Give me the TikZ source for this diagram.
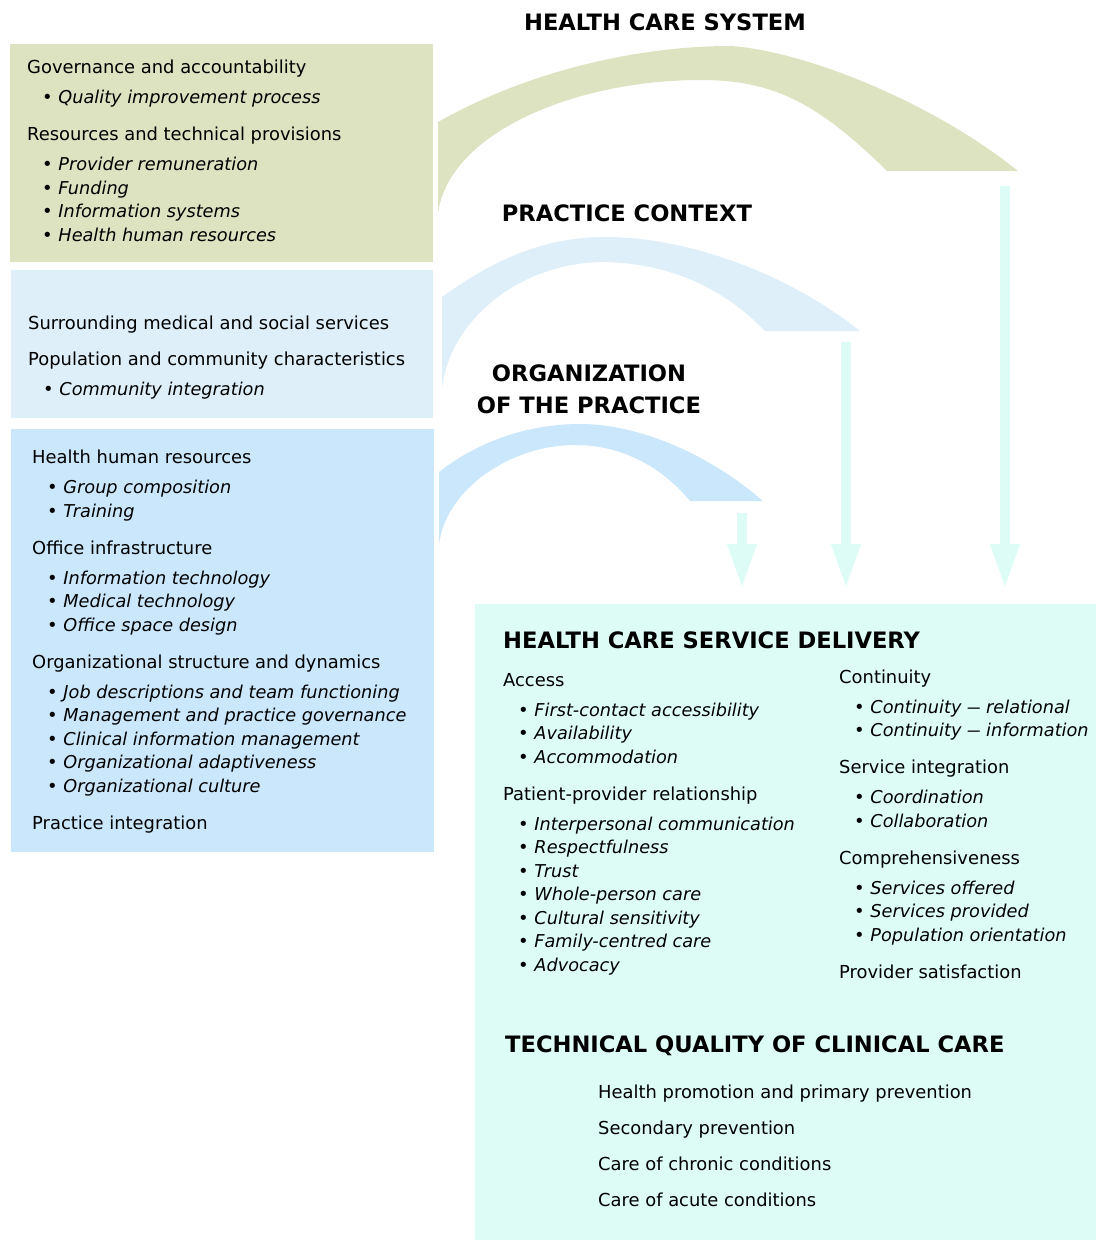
\documentclass[tikz,border=0pt]{standalone}
\usepackage{fontspec}
\setmainfont{DejaVu Sans}
\usepackage{graphicx}
\usetikzlibrary{positioning, arrows.meta}
\definecolor{sysgreen}{RGB}{221,226,193}
\definecolor{ctxblue}{RGB}{222,239,249}
\definecolor{orgblue}{RGB}{203,231,252}
\definecolor{mint}{RGB}{221,252,246}
\newcommand{\bul}[1]{\hspace*{15pt}\textbullet\ {\fontsize{17.7}{23.5}\selectfont\itshape #1}}
\newcommand{\longdash}{\scalebox{0.76}[1]{---}}
\tikzset{
  panel/.style={fill=#1, inner sep=0pt, anchor=north west},
  % base of a list is the baseline of its last line
  listtext/.style={inner sep=0pt, anchor=base west, align=left,
    font=\fontsize{17.9}{23.5}\selectfont},
  heading/.style={inner sep=0pt, anchor=base, align=center,
    font=\fontsize{22.6}{32}\selectfont\bfseries},
  feed/.style={draw=mint, line width=10pt,
    -{Triangle[length=45pt,width=27pt,sep=3pt]}},
}

\begin{document}
\begin{tikzpicture}[x=1pt, y=-1pt]
  \useasboundingbox (0,0) rectangle (1096,1240);

  % panels on the left and the delivery panel
  \node[panel=sysgreen, minimum width=423pt, minimum height=218pt] (sysbox) at (10,44) {};
  \node[panel=ctxblue, minimum width=422pt, minimum height=148pt] (ctxbox) at (11,270) {};
  \node[panel=orgblue, minimum width=423pt, minimum height=423pt] (orgbox) at (11,429) {};
  \node[panel=mint, minimum width=621pt, minimum height=636pt] (delivery) at (475,604) {};

  \node[listtext] (systext) at (27,241) {%
    Governance and accountability\\[6.5pt]
    \bul{Quality improvement process}\\[13.5pt]
    Resources and technical provisions\\[6.5pt]
    \bul{Provider remuneration}\\
    \bul{Funding}\\
    \bul{Information systems}\\
    \bul{Health human resources}};

  \node[listtext] (ctxtext) at (28,395) {%
    Surrounding medical and social services\\[12.5pt]
    Population and community characteristics\\[6.5pt]
    \bul{Community integration}};

  \node[listtext] (orgtext) at (32,829) {%
    Health human resources\\[6.5pt]
    \bul{Group composition}\\
    \bul{Training}\\[13.5pt]
    Office infrastructure\\[6.5pt]
    \bul{Information technology}\\
    \bul{Medical technology}\\
    \bul{Office space design}\\[13.5pt]
    Organizational structure and dynamics\\[6.5pt]
    \bul{Job descriptions and team functioning}\\
    \bul{Management and practice governance}\\
    \bul{Clinical information management}\\
    \bul{Organizational adaptiveness}\\
    \bul{Organizational culture}\\[13.5pt]
    Practice integration};

  % arcs over the three levels
  \fill[sysgreen] (438,122) .. controls (530,70) and (640,46) .. (730,46)
    .. controls (800,50) and (930,100) .. (1018,171) -- (887,171)
    .. controls (815,100) and (770,80) .. (700,80)
    .. controls (580,80) and (450,130) .. (438,213) -- cycle;
  \fill[ctxblue] (442,297) .. controls (500,255) and (550,237) .. (605,237)
    .. controls (690,237) and (790,275) .. (860,331) -- (765,331)
    .. controls (730,295) and (680,264) .. (605,262)
    .. controls (520,262) and (450,320) .. (442,388) -- cycle;
  \fill[orgblue] (439,472) .. controls (480,440) and (530,424) .. (580,424)
    .. controls (640,424) and (710,455) .. (763,501) -- (690,501)
    .. controls (660,465) and (620,445) .. (575,445)
    .. controls (510,445) and (445,490) .. (439,545) -- cycle;

  \node[heading] (systitle) at (665,30) {HEALTH CARE SYSTEM};
  \node[heading] (ctxtitle) at (627,221) {PRACTICE CONTEXT};
  \node[heading] (orgtitle) at (589,413) {ORGANIZATION\\OF THE PRACTICE};

  % drops from the arcs into the delivery panel
  \coordinate (sysdrop) at (1005,186);
  \coordinate (ctxdrop) at (846,342);
  \coordinate (orgdrop) at (742,513);
  \coordinate (sysin) at ([yshift=12pt]delivery.north -| sysdrop);
  \coordinate (ctxin) at ([yshift=12pt]delivery.north -| ctxdrop);
  \coordinate (orgin) at ([yshift=12pt]delivery.north -| orgdrop);
  \draw[feed] (sysdrop) -- (sysin);
  \draw[feed] (ctxdrop) -- (ctxin);
  \draw[feed] (orgdrop) -- (orgin);

  \node[heading, anchor=base west] (deltitle) at (503,648) {HEALTH CARE SERVICE DELIVERY};

  \node[listtext] (accesstext) at (503,971) {%
    Access\\[6.5pt]
    \bul{First-contact accessibility}\\
    \bul{Availability}\\
    \bul{Accommodation}\\[13.5pt]
    Patient-provider relationship\\[6.5pt]
    \bul{Interpersonal communication}\\
    \bul{Respectfulness}\\
    \bul{Trust}\\
    \bul{Whole-person care}\\
    \bul{Cultural sensitivity}\\
    \bul{Family-centred care}\\
    \bul{Advocacy}};

  \node[listtext] (conttext) at (839,978) {%
    Continuity\\[6.5pt]
    \bul{Continuity \longdash\ relational}\\
    \bul{Continuity \longdash\ information}\\[13.5pt]
    Service integration\\[6.5pt]
    \bul{Coordination}\\
    \bul{Collaboration}\\[13.5pt]
    Comprehensiveness\\[6.5pt]
    \bul{Services offered}\\
    \bul{Services provided}\\
    \bul{Population orientation}\\[13.5pt]
    Provider satisfaction};

  \node[heading, anchor=base west] (techtitle) at (505,1052) {TECHNICAL QUALITY OF CLINICAL CARE};

  \node[listtext] (techtext) at (598,1206) {%
    Health promotion and primary prevention\\[12.2pt]
    Secondary prevention\\[12.2pt]
    Care of chronic conditions\\[12.2pt]
    Care of acute conditions};
\end{tikzpicture}
\end{document}
